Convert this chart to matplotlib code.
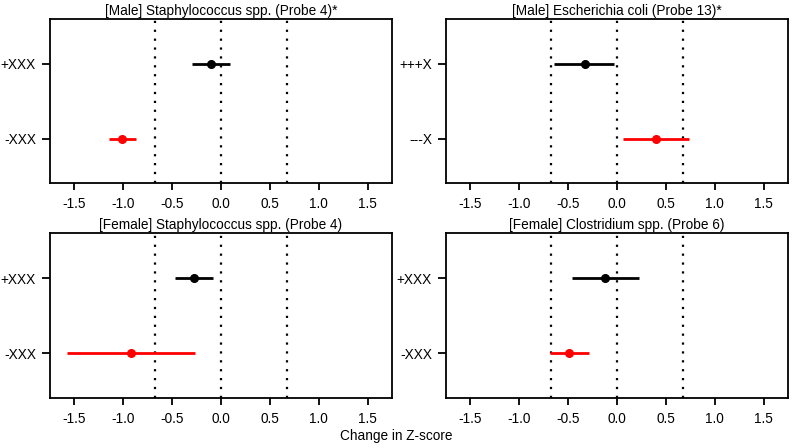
import matplotlib.pyplot as plt
import numpy as np

plt.rcParams['font.family'] = ['Liberation Sans', 'DejaVu Sans']

# panel titles and row labels
titles = ["[Male] Staphylococcus spp. (Probe 4)*",
          "[Male] Escherichia coli (Probe 13)*",
          "[Female] Staphylococcus spp. (Probe 4)",
          "[Female] Clostridium spp. (Probe 6)"]
row_labels = [["+XXX", "-XXX"],
              ["+++X", "---X"],
              ["+XXX", "-XXX"],
              ["+XXX", "-XXX"]]

# estimates and intervals (top row, bottom row) per panel
est = [[-0.10, -1.01],
       [-0.33, 0.40],
       [-0.28, -0.92],
       [-0.12, -0.495]]
lo = [[-0.30, -1.145],
      [-0.64, 0.06],
      [-0.47, -1.57],
      [-0.46, -0.69]]
hi = [[0.095, -0.87],
      [-0.03, 0.74],
      [-0.085, -0.27],
      [0.23, -0.29]]
row_colors = ["black", "#ff0000"]

ref_lines = [-0.6745, 0.0, 0.6745]
xticks = [-1.5, -1.0, -0.5, 0.0, 0.5, 1.0, 1.5]

fs = 9.8

fig = plt.figure(figsize=(7.92, 4.48), dpi=100)
boxes = [(0.063, 0.592, 0.432, 0.366),
         (0.563, 0.592, 0.432, 0.366),
         (0.063, 0.112, 0.432, 0.368),
         (0.563, 0.112, 0.432, 0.368)]

for i in range(4):
    ax = fig.add_axes(boxes[i])
    ypos = [2, 1]
    for v in ref_lines:
        ax.axvline(v, color="black", linestyle=(0, (1, 3)), linewidth=1.6, zorder=1)
    for j in range(2):
        ax.plot([lo[i][j], hi[i][j]], [ypos[j], ypos[j]], color=row_colors[j],
                linewidth=2.0, solid_capstyle="butt", zorder=2)
        ax.plot(est[i][j], ypos[j], "o", color=row_colors[j], markersize=5.5, zorder=3)
    ax.set_xlim(-1.75, 1.75)
    ax.set_ylim(0.41, 2.6)
    ax.set_xticks(xticks)
    ax.set_xticklabels(["%.1f" % t for t in xticks])
    ax.set_yticks(ypos)
    ax.set_yticklabels(row_labels[i])
    ax.tick_params(axis="both", labelsize=fs, length=5, width=1.3, pad=5, direction="out")
    ax.tick_params(axis="y", length=6, pad=4)
    for s in ax.spines.values():
        s.set_linewidth(1.3)
    ax.set_title(titles[i], fontsize=fs, pad=3)

fig.text(0.5, 0.026, "Change in Z-score", ha="center", va="center", fontsize=fs)

fig.savefig("out.png", dpi=100)
